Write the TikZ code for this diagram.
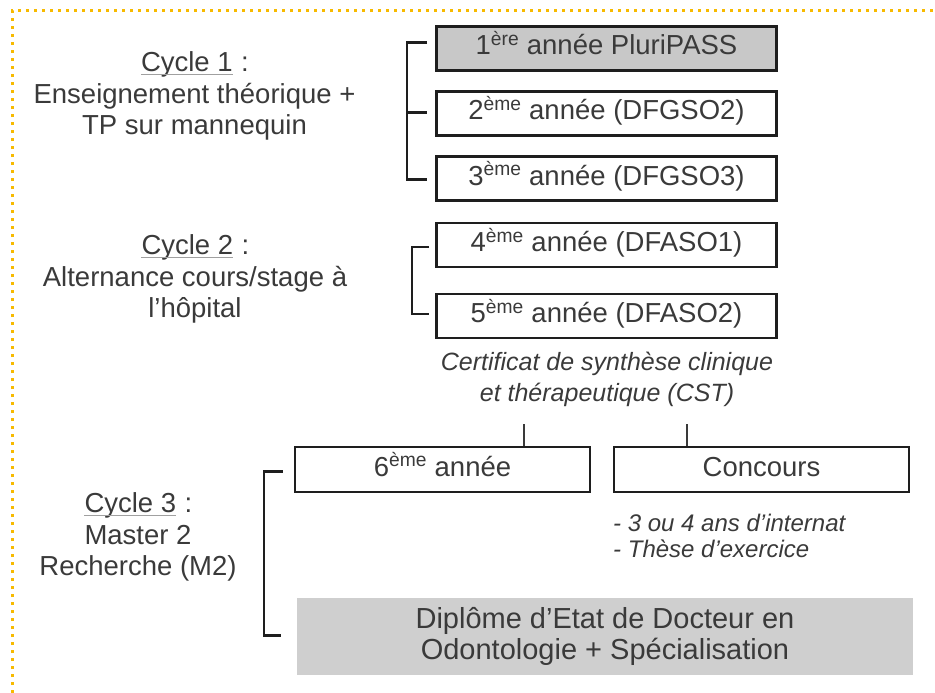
\documentclass[tikz,border=0pt]{standalone}
\usepackage{fontspec}
\setmainfont{Liberation Sans}
\usetikzlibrary{calc}
\definecolor{txt}{HTML}{3A3A3A}
\definecolor{gold}{HTML}{F7BA00}
\definecolor{boxgray}{HTML}{C8C8C8}
\definecolor{dipgray}{HTML}{CFCFCF}
\definecolor{edge}{HTML}{1E1E1E}
\definecolor{ulgray}{HTML}{A0A0A0}
\newcommand{\cyc}[1]{\tikz[baseline=(u.base)]{\node[inner sep=0pt] (u) {#1};\draw[ulgray, line width=1pt] ([yshift=-3pt]u.base west) -- ([yshift=-3pt]u.base east);}}
\begin{document}
\begin{tikzpicture}[x=1pt,y=-1pt,
  yearbox/.style={draw=edge, line width=2.6pt, minimum width=340pt, minimum height=44pt,
    inner sep=0pt, text height=22pt, text depth=9pt, text=txt, font=\fontsize{27.5}{32}\selectfont},
  smallbox/.style={yearbox, minimum width=295pt, minimum height=45pt},
  dipbox/.style={fill=dipgray, minimum width=616pt, minimum height=77pt, inner sep=0pt,
    text=txt, align=center, font=\fontsize{29}{31}\selectfont},
  cyclelabel/.style={text=txt, align=center, inner sep=0pt, font=\fontsize{27.5}{31.5}\selectfont},
  note/.style={text=txt, inner sep=0pt, font=\fontsize{24}{26}\selectfont\itshape},
  bracket/.style={draw=edge, line width=2.4pt},
  tick/.style={draw=txt, line width=2pt},
  border/.style={draw=gold, line width=3pt, dash pattern=on 3pt off 5pt}
]
\useasboundingbox (0,0) rectangle (935,693);
% border
\coordinate (bl) at (12,693);
\coordinate (tl) at (12,11);
\coordinate (tr) at (935,11);
\draw[border] (bl) -- (tl) -- (tr);

% year boxes
\node[yearbox, fill=boxgray] (b1) at (606.5,48.5) {1\textsuperscript{ère} année PluriPASS};
\node[yearbox] (b2) at (606.5,113.5) {2\textsuperscript{ème} année (DFGSO2)};
\node[yearbox] (b3) at (606.5,178.5) {3\textsuperscript{ème} année (DFGSO3)};
\node[yearbox] (b4) at (606.5,245) {4\textsuperscript{ème} année (DFASO1)};
\node[yearbox] (b5) at (606.5,316) {5\textsuperscript{ème} année (DFASO2)};

% cycle labels
\node[cyclelabel] (c1) at (194.5,96) {\cyc{Cycle 1} :\\Enseignement théorique +\\TP sur mannequin};
\node[cyclelabel] (c2) at (195,279) {\cyc{Cycle 2} :\\Alternance cours/stage à\\l'hôpital};
\node[cyclelabel] (c3) at (138,537) {\cyc{Cycle 3} :\\Master 2\\Recherche (M2)};

% CST
\node[note, align=center, font=\fontsize{25}{31}\selectfont\itshape] (cst) at (607,379) {Certificat de synthèse clinique\\et thérapeutique (CST)};

% bottom boxes
\node[smallbox] (b6) at (442.5,469.5) {6\textsuperscript{ème} année};
\node[smallbox] (conc) at (761.5,469.5) {Concours};
\node[note, anchor=west, align=left] (intern) at (613,536) {- 3 ou 4 ans d'internat\\- Thèse d'exercice};
\node[dipbox] (dip) at (605,636.5) {Diplôme d'Etat de Docteur en\\Odontologie + Spécialisation};

% brackets
\draw[bracket] ($(b1.west)+(-8,-6)$) -- ++(-20,0) |- ($(b3.west)+(-8,1)$);
\draw[bracket] ($(b2.west)+(-28,-1)$) -- ($(b2.west)+(-8,-1)$);
\draw[bracket] ($(b4.west)+(-6,2)$) -- ++(-17,0) |- ($(b5.west)+(-6,-2)$);
\draw[bracket] ($(b6.west)+(-11,2)$) -- ++(-19,0) |- ($(dip.west)+(-16,-1)$);

% ticks
\coordinate (t1) at (524,424);
\coordinate (t2) at (687,424);
\draw[tick] (t1) -- (t1 |- b6.north);
\draw[tick] (t2) -- (t2 |- conc.north);
\end{tikzpicture}
\end{document}
